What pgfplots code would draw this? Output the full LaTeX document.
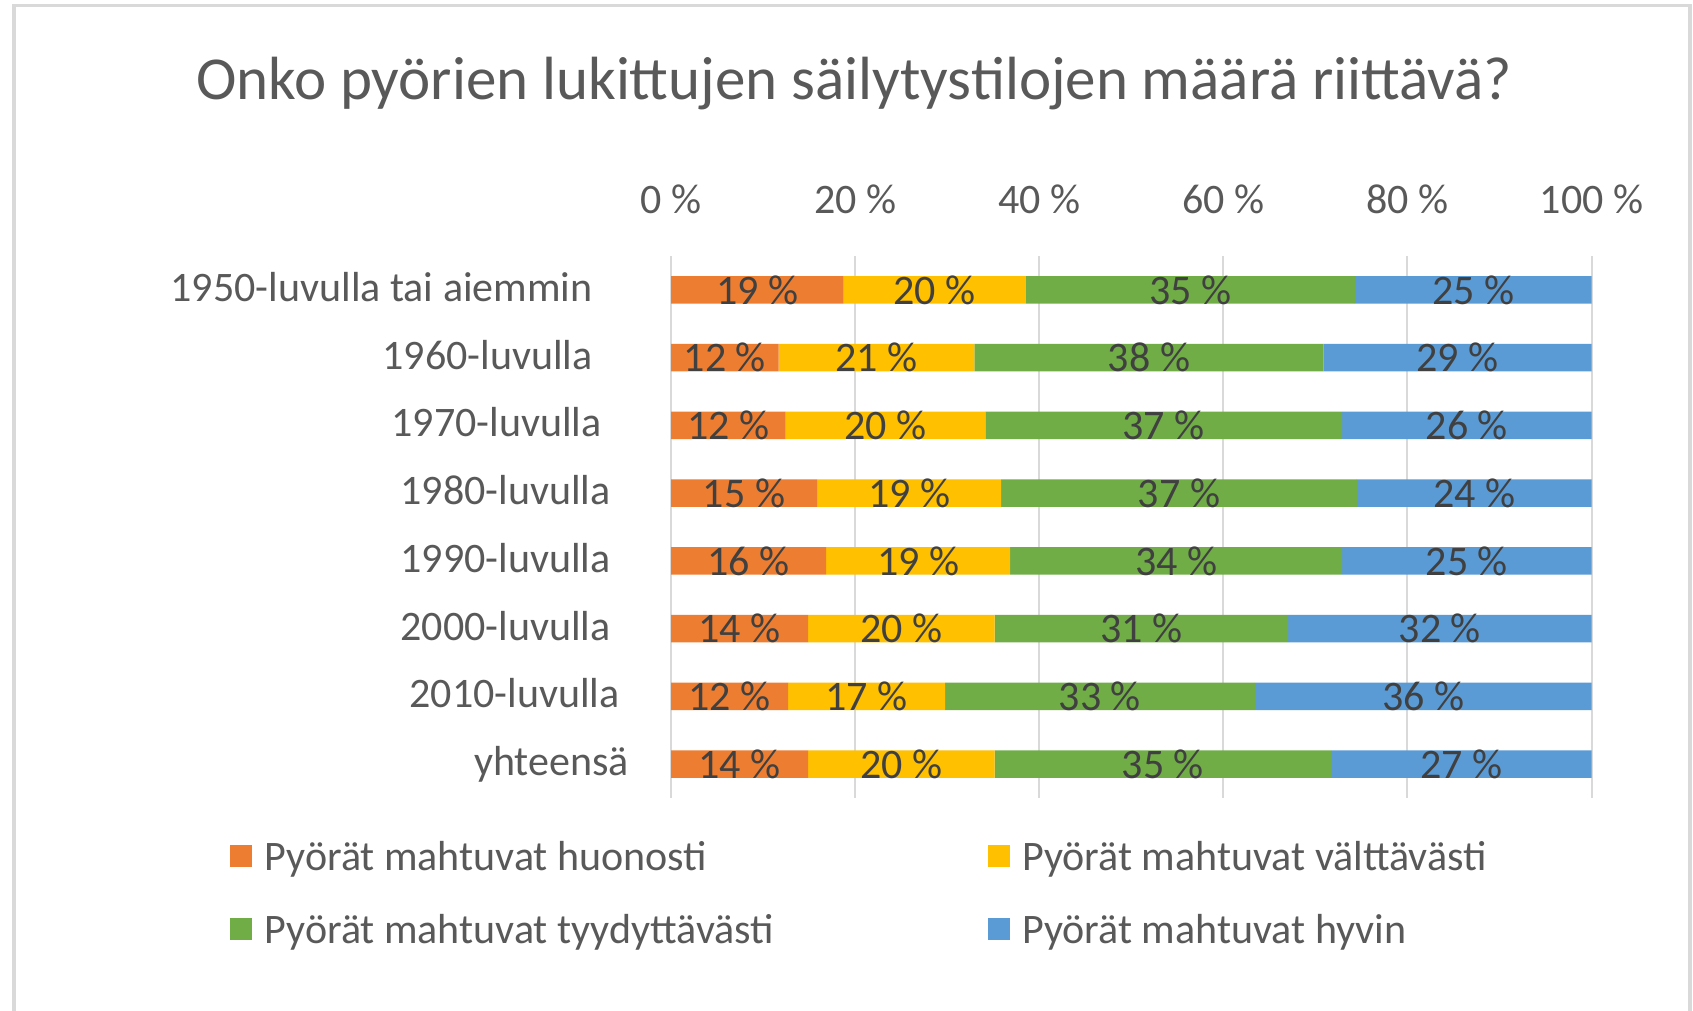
\documentclass[border=0pt]{standalone}
\usepackage{fontspec}
\setmainfont{Carlito}
\usepackage{pgfplots}
\pgfplotsset{compat=1.18}
\definecolor{cOrange}{HTML}{ED7D31}
\definecolor{cYellow}{HTML}{FFC000}
\definecolor{cGreen}{HTML}{70AD47}
\definecolor{cBlue}{HTML}{5B9BD5}
\definecolor{cGrid}{HTML}{D9D9D9}
\definecolor{cText}{HTML}{595959}
\definecolor{cLabel}{HTML}{404040}

\begin{document}
\begin{tikzpicture}[font=\fontsize{21}{25}\selectfont]
\useasboundingbox (0,0) rectangle (846.5pt,505.5pt);
\fill[white] (0,0) rectangle (846.5pt,505.5pt);
\draw[cGrid, line width=1.6pt] (7pt,0) -- (7pt,502.7pt) -- (845pt,502.7pt) -- (845pt,0);
\node[anchor=base, text=cText, font=\fontsize{30.5}{36}\selectfont] at (427pt,455.8pt)
  {Onko pyörien lukittujen säilytystilojen määrä riittävä?};

\begin{axis}[
    at={(335.5pt,106.5pt)}, anchor=south west,
    scale only axis, width=460.25pt, height=271pt,
    xbar stacked, bar width=13.65pt,
    xmin=0, xmax=100, ymin=-0.5, ymax=7.5, y dir=reverse,
    xtick={0,20,...,100},
    xticklabels={0 \%,20 \%,40 \%,60 \%,80 \%,100 \%},
    xticklabel pos=upper,
    ytick={0,...,7},
    yticklabels={{1950-luvulla tai aiemmin\hspace*{18.2pt}},
                 {1960-luvulla\hspace*{18.2pt}},
                 {1970-luvulla\hspace*{13.7pt}},
                 {1980-luvulla\hspace*{9.2pt}},
                 {1990-luvulla\hspace*{9.2pt}},
                 {2000-luvulla\hspace*{9.2pt}},
                 {2010-luvulla\hspace*{4.7pt}},
                 {yhteensä}},
    xmajorgrids, major grid style={line width=1pt, cGrid},
    axis line style={draw=none}, major tick length=0pt,
    tick label style={text=cText},
    xticklabel style={anchor=base, yshift=21.5pt},
    yticklabel style={anchor=base east, inner sep=0pt, xshift=-20.8pt, yshift=-5.8pt},
    point meta=explicit symbolic,
    nodes near coords={\pgfplotspointmeta~\%},
    nodes near coords style={anchor=center, text=cLabel, inner sep=0pt},
    legend columns=2,
    legend cell align=left,
    legend image code/.code={\fill[#1, draw=none] (0pt,-3.5pt) rectangle (11pt,7.5pt);},
    legend style={draw=none, fill=none, inner sep=0pt,
        at={(axis description cs:0,0)}, anchor=north west, xshift=-220.7pt, yshift=-21pt,
        nodes={inner sep=0pt, text=cText, text height=15pt, text depth=5pt},
        column sep=0pt, row sep=16.5pt,
        /tikz/every odd column/.append style={column sep=6.3pt}},
]
\addplot[fill=cOrange, draw=none] coordinates {
    (18.75,0) [19] (11.7,1) [12] (12.45,2) [12] (15.87,3) [15]
    (16.85,4) [16] (14.9,5) [14] (12.72,6) [12] (14.9,7) [14]
};
\addlegendentry{\makebox[361.5pt][l]{Pyörät mahtuvat huonosti}}
\addplot[fill=cYellow, draw=none] coordinates {
    (19.8,0) [20] (21.26,1) [21] (21.71,2) [20] (20.0,3) [19]
    (20.0,4) [19] (20.27,5) [20] (17.05,6) [17] (20.27,7) [20]
};
\addlegendentry{Pyörät mahtuvat välttävästi}
\addplot[fill=cGreen, draw=none] coordinates {
    (35.75,0) [35] (37.94,1) [38] (38.74,2) [37] (38.63,3) [37]
    (36.07,4) [34] (31.87,5) [31] (33.66,6) [33] (36.53,7) [35]
};
\addlegendentry{\makebox[361.5pt][l]{Pyörät mahtuvat tyydyttävästi}}
\addplot[fill=cBlue, draw=none] coordinates {
    (25.7,0) [25] (29.1,1) [29] (27.1,2) [26] (25.5,3) [24]
    (27.08,4) [25] (32.96,5) [32] (36.57,6) [36] (28.3,7) [27]
};
\addlegendentry{Pyörät mahtuvat hyvin}
\end{axis}
\end{tikzpicture}
\end{document}
